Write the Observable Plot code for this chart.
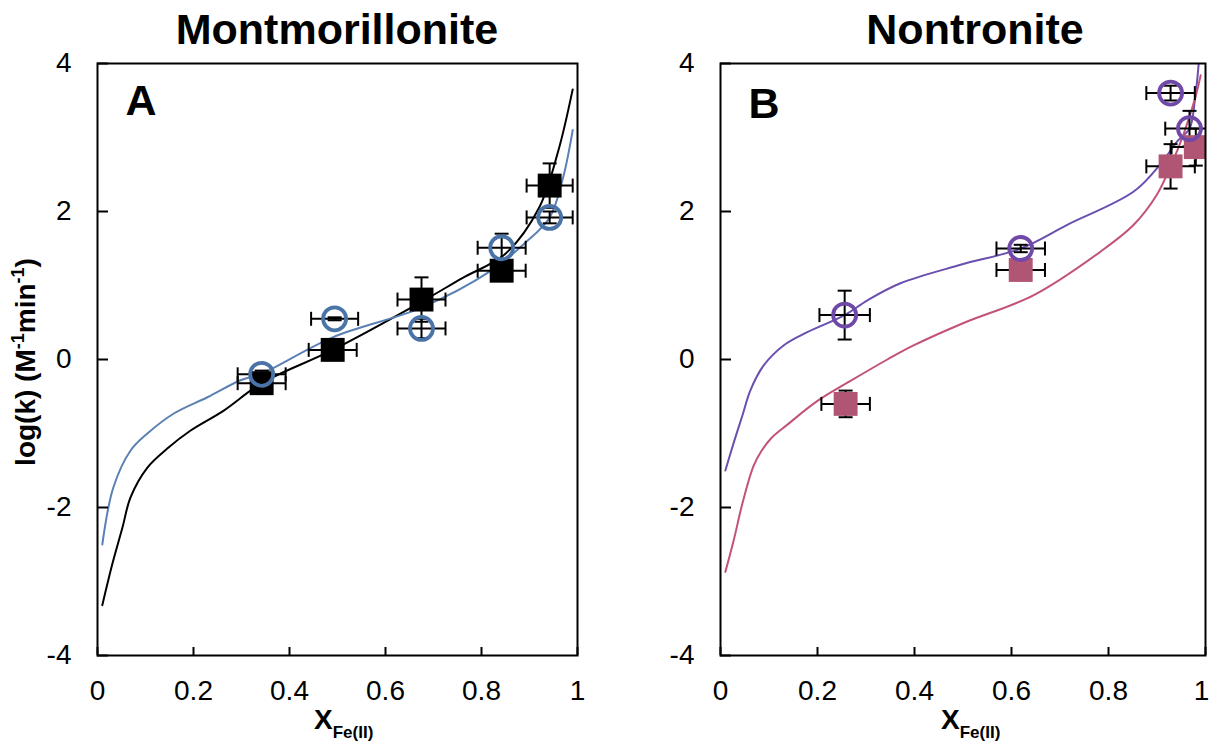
<!DOCTYPE html>
<html><head><meta charset="utf-8">
<script src="https://cdn.jsdelivr.net/npm/d3@7"></script>
<script src="https://cdn.jsdelivr.net/npm/@observablehq/plot@0.6"></script>
<style>
body{margin:0;background:#fff;}
#wrap{position:relative;width:1211px;height:744px;overflow:hidden;font-family:"Liberation Sans",Arial,sans-serif;background:#fff;}
.title{position:absolute;top:6px;font-weight:bold;font-size:43px;line-height:46px;white-space:nowrap;transform:translateX(-50%);color:#000;}
.xlab{position:absolute;top:705px;font-weight:bold;font-size:28px;line-height:30px;white-space:nowrap;color:#000;}
.xlab span{font-size:17px;position:relative;top:9px;}
.ylab{position:absolute;left:27px;top:362px;font-weight:bold;font-size:28px;line-height:30px;white-space:nowrap;transform:translate(-50%,-50%) rotate(-90deg);color:#000;}
.ylab span{font-size:18px;position:relative;top:-11px;}
svg{position:absolute;top:0;}
</style></head><body><div id="wrap"></div><script>
// ---------- shared ticks ----------
const xTicks = [0, 0.2, 0.4, 0.6, 0.8, 1];
const yTicks = [-4, -2, 0, 2, 4];

// ---------- Panel A: Montmorillonite ----------
const aTitle = "Montmorillonite";
const aLetter = "A";
const aBlackCurveX = [0.01, 0.031, 0.052, 0.069, 0.104, 0.146, 0.194, 0.263, 0.342, 0.49, 0.675, 0.76, 0.85, 0.92, 0.96, 0.99];
const aBlackCurveY = [-3.32, -2.76, -2.27, -1.86, -1.46, -1.2, -0.96, -0.69, -0.32, 0.13, 0.78, 1.1, 1.43, 2.05, 2.82, 3.65];
const aBlueCurveX = [0.01, 0.033, 0.069, 0.104, 0.159, 0.229, 0.298, 0.342, 0.49, 0.675, 0.82, 0.89, 0.942, 0.97, 0.99];
const aBlueCurveY = [-2.5, -1.73, -1.23, -1.0, -0.73, -0.51, -0.28, -0.19, 0.3, 0.7, 1.2, 1.57, 1.92, 2.46, 3.1];
const aSquareX = [0.342, 0.49, 0.675, 0.842, 0.942];
const aSquareY = [-0.32, 0.13, 0.81, 1.2, 2.35];
const aSquareXErr = [0.05, 0.05, 0.05, 0.05, 0.048];
const aSquareYErr = [0.1, 0.08, 0.3, 0.1, 0.3];
const aCircleX = [0.342, 0.494, 0.675, 0.842, 0.942];
const aCircleY = [-0.2, 0.55, 0.42, 1.51, 1.92];
const aCircleXErr = [0.05, 0.049, 0.05, 0.05, 0.048];
const aCircleYErr = [0.05, 0.02, 0.13, 0.19, 0.08];

// ---------- Panel B: Nontronite ----------
const bTitle = "Nontronite";
const bLetter = "B";
const bPurpleCurveX = [0.01, 0.027, 0.045, 0.062, 0.089, 0.13, 0.179, 0.256, 0.303, 0.371, 0.495, 0.619, 0.715, 0.852, 0.907, 0.942, 0.967, 0.978, 0.986];
const bPurpleCurveY = [-1.5, -1.13, -0.76, -0.41, -0.08, 0.19, 0.37, 0.6, 0.8, 1.03, 1.28, 1.5, 1.82, 2.27, 2.64, 2.95, 3.12, 3.5, 4.0];
const bPinkCurveX = [0.01, 0.027, 0.045, 0.068, 0.085, 0.105, 0.138, 0.2, 0.268, 0.344, 0.398, 0.5, 0.646, 0.784, 0.852, 0.9, 0.928, 0.955, 0.979, 0.99];
const bPinkCurveY = [-2.87, -2.45, -1.95, -1.44, -1.23, -1.06, -0.88, -0.56, -0.29, 0.0, 0.19, 0.49, 0.87, 1.46, 1.82, 2.23, 2.61, 3.05, 3.54, 3.84];
const bSquareX = [0.258, 0.619, 0.928, 0.98];
const bSquareY = [-0.6, 1.21, 2.61, 2.87];
const bSquareXErr = [0.05, 0.05, 0.05, 0.05];
const bSquareYErr = [0.18, 0.05, 0.3, 0.25];
const bCircleX = [0.256, 0.619, 0.928, 0.967];
const bCircleY = [0.6, 1.5, 3.6, 3.12];
const bCircleXErr = [0.052, 0.05, 0.05, 0.05];
const bCircleYErr = [0.33, 0.05, 0.1, 0.24];

// ---------- colours ----------
const colBlack = "#000000";
const colBlueLine = "#5a80b4";
const colBlueMark = "#4a74a8";
const colPurpleLine = "#6a4fb0";
const colPurpleMark = "#7048a8";
const colPinkLine = "#c25374";
const colPinkMark = "#b15575";

// ---------- helpers ----------
const toPts = (xs, ys) => xs.map((x, i) => ({x, y: ys[i]}));
const toErr = (xs, ys, xe, ye) => xs.map((x, i) => ({x, y: ys[i], xe: xe[i], ye: ye[i]}));
const vcap = {draw(ctx, size) { const h = Math.sqrt(size / Math.PI); ctx.moveTo(0, -h); ctx.lineTo(0, h); }};
const hcap = {draw(ctx, size) { const h = Math.sqrt(size / Math.PI); ctx.moveTo(-h, 0); ctx.lineTo(h, 0); }};

function errMarks(data) {
  const s = {stroke: "black", strokeWidth: 2, clip: true};
  return [
    Plot.link(data, {x1: d => d.x - d.xe, x2: d => d.x + d.xe, y1: "y", y2: "y", ...s}),
    Plot.link(data, {x1: "x", x2: "x", y1: d => d.y - d.ye, y2: d => d.y + d.ye, ...s}),
    Plot.dot(data, {x: d => d.x - d.xe, y: "y", symbol: vcap, r: 7, fill: "none", ...s}),
    Plot.dot(data, {x: d => d.x + d.xe, y: "y", symbol: vcap, r: 7, fill: "none", ...s}),
    Plot.dot(data, {x: "x", y: d => d.y - d.ye, symbol: hcap, r: 7, fill: "none", ...s}),
    Plot.dot(data, {x: "x", y: d => d.y + d.ye, symbol: hcap, r: 7, fill: "none", ...s})
  ];
}

const H = 744, MT = 63, MB = 89;

function panel(cfg) {
  const plotW = cfg.width - cfg.marginLeft - cfg.marginRight;
  const plotH = H - MT - MB;
  const fmt = d => String(d);
  const mainTicks = xTicks.slice(0, -1);
  const lastTick = xTicks.slice(-1);
  const chart = Plot.plot({
    width: cfg.width, height: H,
    marginLeft: cfg.marginLeft, marginRight: cfg.marginRight, marginTop: MT, marginBottom: MB,
    x: {domain: [0, 1]},
    y: {domain: [-4, 4]},
    style: {fontFamily: '"Liberation Sans", Arial, sans-serif', background: "white", overflow: "visible", color: "black"},
    marks: [
      ...cfg.lines.map(l => Plot.line(l.data, {x: "x", y: "y", stroke: l.color, strokeWidth: l.width, curve: "catmull-rom", clip: true})),
      ...errMarks(cfg.squares),
      ...errMarks(cfg.circles),
      Plot.dot(cfg.squares, {x: "x", y: "y", symbol: "square", r: 13.5, fill: cfg.squareColor, stroke: "none", clip: true}),
      Plot.dot(cfg.circles, {x: "x", y: "y", symbol: "circle", r: 11.5, fill: "none", stroke: cfg.circleColor, strokeWidth: 3.8, clip: true}),
      Plot.frame({stroke: "black", strokeWidth: 2}),
      Plot.tickY(yTicks, {y: d => d, insetRight: plotW - 11, stroke: "black", strokeWidth: 2}),
      Plot.tickX(xTicks, {x: d => d, insetTop: plotH - 8, stroke: "black", strokeWidth: 2}),
      Plot.axisY({ticks: yTicks, tickSize: 0, tickPadding: 26, fontSize: 28, tickFormat: fmt, label: null}),
      Plot.axisX({ticks: mainTicks, tickSize: 0, tickPadding: 25, fontSize: 28, tickFormat: fmt, label: null}),
      Plot.axisX({ticks: lastTick, tickSize: 0, tickPadding: 25, fontSize: 28, tickFormat: fmt, label: null, dx: cfg.lastDx}),
      Plot.text([cfg.letter], {text: d => d, frameAnchor: "top-left", dx: 28, dy: cfg.letterDy, lineAnchor: "top", textAnchor: "start", fontSize: 43, fontWeight: "bold", fill: "black"})
    ]
  });
  chart.style.left = cfg.left + "px";
  return chart;
}

const wrap = document.getElementById("wrap");

wrap.appendChild(panel({
  left: 0, width: 600, marginLeft: 97, marginRight: 23, letter: aLetter, letterDy: 21, lastDx: 0,
  lines: [
    {data: toPts(aBlackCurveX, aBlackCurveY), color: colBlack, width: 2},
    {data: toPts(aBlueCurveX, aBlueCurveY), color: colBlueLine, width: 2}
  ],
  squares: toErr(aSquareX, aSquareY, aSquareXErr, aSquareYErr),
  circles: toErr(aCircleX, aCircleY, aCircleXErr, aCircleYErr),
  squareColor: colBlack, circleColor: colBlueMark
}));

wrap.appendChild(panel({
  left: 600, width: 611, marginLeft: 120, marginRight: 6, letter: bLetter, letterDy: 24, lastDx: -4,
  lines: [
    {data: toPts(bPurpleCurveX, bPurpleCurveY), color: colPurpleLine, width: 2},
    {data: toPts(bPinkCurveX, bPinkCurveY), color: colPinkLine, width: 2}
  ],
  squares: toErr(bSquareX, bSquareY, bSquareXErr, bSquareYErr),
  circles: toErr(bCircleX, bCircleY, bCircleXErr, bCircleYErr),
  squareColor: colPinkMark, circleColor: colPurpleMark
}));

function addDiv(cls, html, styles) {
  const d = document.createElement("div");
  d.className = cls; d.innerHTML = html;
  Object.assign(d.style, styles || {});
  wrap.appendChild(d);
}
addDiv("title", aTitle, {left: "337px"});
addDiv("title", bTitle, {left: "975px"});
addDiv("xlab", "X<span>Fe(II)</span>", {left: "314px"});
addDiv("xlab", "X<span>Fe(II)</span>", {left: "941px"});
addDiv("ylab", "log(k) (M<span>-1</span>min<span>-1</span>)");
</script></body></html>
